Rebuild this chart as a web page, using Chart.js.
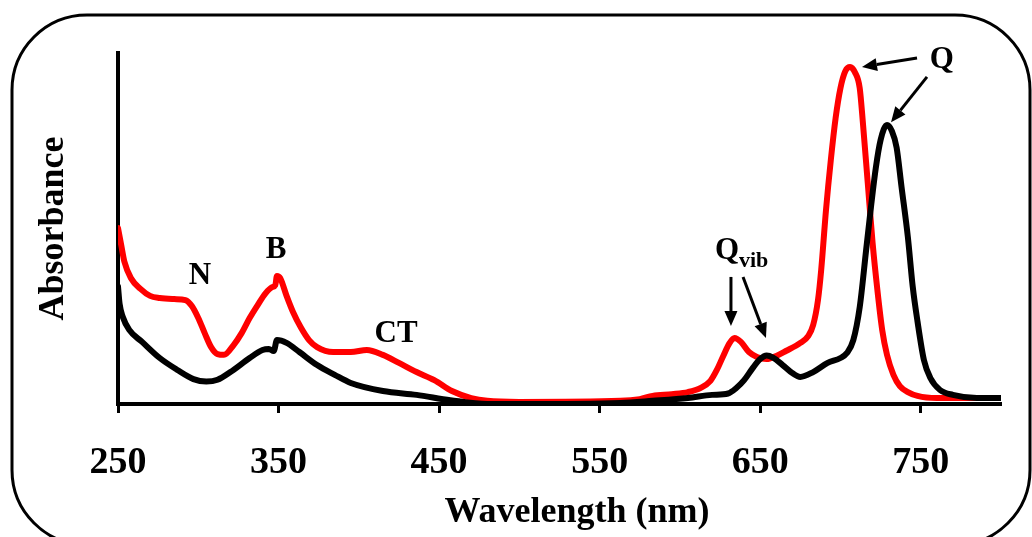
<!DOCTYPE html>
<html>
<head>
<meta charset="utf-8">
<script src="https://cdn.jsdelivr.net/npm/chart.js@4.4.0/dist/chart.umd.min.js"></script>
<style>
    html, body { margin: 0; padding: 0; background: #fff; }
    #wrap { width: 1032px; height: 537px; }
</style>
</head>
<body>
<div id="wrap"><canvas id="spectraChart" width="1032" height="537"></canvas></div>
<script>
// black spectrum
const blackNm = [250, 251, 253, 257, 265, 276, 287, 297, 305, 312,
    320, 332, 340, 344, 347, 349, 355, 363, 374, 385,
    395, 415, 436, 457, 480, 500, 563, 583, 605, 620,
    630, 635, 640, 645, 650, 654, 658, 664, 670, 675,
    683, 692, 700, 704, 708, 712, 716, 719, 722, 725,
    729, 732, 735, 738, 742, 745, 748, 752, 756, 762,
    770, 785, 800];
const blackAbs = [0.335, 0.285, 0.248, 0.211, 0.177, 0.131, 0.097, 0.071, 0.064, 0.069,
    0.091, 0.131, 0.154, 0.157, 0.151, 0.182, 0.174, 0.148, 0.111, 0.083,
    0.060, 0.037, 0.026, 0.011, 0.000, 0.000, 0.003, 0.009, 0.017, 0.026,
    0.030, 0.045, 0.068, 0.100, 0.128, 0.138, 0.132, 0.111, 0.088, 0.077,
    0.091, 0.117, 0.131, 0.145, 0.182, 0.276, 0.439, 0.561, 0.672, 0.752,
    0.795, 0.778, 0.730, 0.620, 0.475, 0.335, 0.235, 0.125, 0.074, 0.040,
    0.026, 0.017, 0.017];

// red spectrum
const redNm = [250, 252, 254, 258, 264, 270, 276, 285, 292, 296,
    300, 304, 308, 312, 316, 322, 327, 332, 337, 342,
    346, 348, 349, 351, 355, 359, 364, 369, 374, 384,
    395, 405, 415, 425, 436, 447, 458, 470, 480, 500,
    563, 575, 583, 595, 605, 613, 619, 623, 627, 631,
    634, 638, 643, 648, 654, 660, 666, 675, 680, 683,
    686, 688, 691, 694, 697, 700, 703, 706, 709, 712,
    714, 717, 720, 723, 726, 729, 733, 737, 742, 748,
    760, 780, 800];
const redAbs = [0.501, 0.453, 0.405, 0.359, 0.328, 0.308, 0.302, 0.299, 0.296, 0.279,
    0.245, 0.202, 0.162, 0.142, 0.140, 0.168, 0.202, 0.245, 0.282, 0.316,
    0.333, 0.339, 0.365, 0.359, 0.308, 0.262, 0.217, 0.182, 0.162, 0.148,
    0.148, 0.154, 0.140, 0.117, 0.091, 0.068, 0.037, 0.017, 0.009, 0.006,
    0.009, 0.014, 0.023, 0.028, 0.034, 0.046, 0.066, 0.097, 0.137, 0.174,
    0.188, 0.177, 0.148, 0.134, 0.128, 0.137, 0.151, 0.174, 0.194, 0.225,
    0.296, 0.382, 0.553, 0.695, 0.815, 0.900, 0.948, 0.960, 0.945, 0.900,
    0.800, 0.630, 0.460, 0.325, 0.211, 0.140, 0.083, 0.051, 0.034, 0.023,
    0.017, 0.017, 0.017];

const xTicks = [250, 350, 450, 550, 650, 750];

// band labels and arrows, in data units (nm, absorbance)
const bandLabels = [
    { text: 'N', x: 301.1, y: 0.365 },
    { text: 'B', x: 348.4, y: 0.439 },
    { text: 'CT', x: 423.2, y: 0.199 },
    { text: 'Q', x: 763.2, y: 0.980 },
    { text: 'Q', sub: 'vib', x: 629.3, y: 0.436 }
];
const bandArrows = [
    { from: [631.8, 0.362], to: [631.8, 0.222] },
    { from: [639.3, 0.362], to: [653.6, 0.188] },
    { from: [747.7, 0.986], to: [713.4, 0.960] },
    { from: [753.9, 0.932], to: [731.5, 0.803] }
];

const serif = "'Liberation Serif', 'Times New Roman', serif";

function toPoints(xs, ys) {
    return xs.map((x, i) => ({ x: x, y: ys[i] }));
}

function drawArrow(ctx, x1, y1, x2, y2) {
    const ang = Math.atan2(y2 - y1, x2 - x1);
    const head = 15, half = 6.5;
    const bx = x2 - head * Math.cos(ang), by = y2 - head * Math.sin(ang);
    ctx.beginPath();
    ctx.moveTo(x1, y1);
    ctx.lineTo(bx, by);
    ctx.stroke();
    ctx.beginPath();
    ctx.moveTo(x2, y2);
    ctx.lineTo(bx + half * Math.sin(ang), by - half * Math.cos(ang));
    ctx.lineTo(bx - half * Math.sin(ang), by + half * Math.cos(ang));
    ctx.closePath();
    ctx.fill();
}

// white background, rounded frame, x axis title
const framePlugin = {
    id: 'frame',
    beforeDraw(chart) {
        const ctx = chart.ctx;
        ctx.save();
        ctx.fillStyle = '#fff';
        ctx.fillRect(0, 0, chart.width, chart.height);
        ctx.restore();
    },
    afterDraw(chart) {
        const ctx = chart.ctx;
        const l = 12, t = 15, r = 1030, b = 545, rad = 75;
        ctx.save();
        ctx.strokeStyle = '#000';
        ctx.lineWidth = 3;
        ctx.beginPath();
        ctx.moveTo(l + rad, t);
        ctx.arcTo(r, t, r, b, rad);
        ctx.arcTo(r, b, l, b, rad);
        ctx.arcTo(l, b, l, t, rad);
        ctx.arcTo(l, t, r, t, rad);
        ctx.closePath();
        ctx.stroke();

        // x title sits a little right of the axis centre in the original
        ctx.fillStyle = '#000';
        ctx.font = 'bold 36px ' + serif;
        ctx.textAlign = 'center';
        ctx.textBaseline = 'middle';
        ctx.fillText('Wavelength (nm)', chart.chartArea.left + 459, 513);
        ctx.restore();
    }
};

// band labels with arrows
const bandPlugin = {
    id: 'bands',
    afterDatasetsDraw(chart) {
        const ctx = chart.ctx;
        const xs = chart.scales.x, ys = chart.scales.y;
        ctx.save();
        ctx.fillStyle = '#000';
        ctx.strokeStyle = '#000';
        ctx.lineWidth = 3;
        bandArrows.forEach(a => {
            drawArrow(ctx,
                xs.getPixelForValue(a.from[0]), ys.getPixelForValue(a.from[1]),
                xs.getPixelForValue(a.to[0]), ys.getPixelForValue(a.to[1]));
        });
        bandLabels.forEach(lb => {
            const px = xs.getPixelForValue(lb.x), py = ys.getPixelForValue(lb.y);
            ctx.font = 'bold 31px ' + serif;
            ctx.textAlign = 'center';
            ctx.textBaseline = 'middle';
            ctx.fillText(lb.text, px, py);
            if (lb.sub) {
                const w = ctx.measureText(lb.text).width;
                ctx.font = 'bold 22px ' + serif;
                ctx.textAlign = 'left';
                ctx.textBaseline = 'alphabetic';
                ctx.fillText(lb.sub, px + w / 2, py + 16);
            }
        });
        ctx.restore();
    }
};

const spectraChart = new Chart(document.getElementById('spectraChart'), {
    type: 'line',
    data: {
        datasets: [
            {
                label: 'black',
                data: toPoints(blackNm, blackAbs),
                borderColor: '#000',
                borderWidth: 6,
                pointRadius: 0,
                cubicInterpolationMode: 'monotone',
                borderJoinStyle: 'round',
                borderCapStyle: 'round'
            },
            {
                label: 'red',
                data: toPoints(redNm, redAbs),
                borderColor: '#ff0000',
                borderWidth: 6,
                pointRadius: 0,
                cubicInterpolationMode: 'monotone',
                borderJoinStyle: 'round',
                borderCapStyle: 'round'
            }
        ]
    },
    options: {
        responsive: false,
        animation: false,
        devicePixelRatio: 1,
        layout: { padding: { left: 0, right: 31, top: 53, bottom: 0 } },
        plugins: {
            legend: { display: false },
            tooltip: { enabled: false }
        },
        scales: {
            x: {
                type: 'linear',
                min: 250,
                max: 800,
                afterBuildTicks: scale => { scale.ticks = xTicks.map(v => ({ value: v })); },
                afterFit: scale => { scale.height = 133; },
                border: { display: true, color: '#000', width: 4 },
                grid: {
                    display: true,
                    drawOnChartArea: false,
                    drawTicks: true,
                    tickLength: 9,
                    tickWidth: 3,
                    tickColor: '#000',
                    color: '#000'
                },
                ticks: {
                    color: '#000',
                    padding: 27,
                    maxRotation: 0,
                    font: { family: serif, size: 38, weight: 'bold' }
                }
            },
            y: {
                type: 'linear',
                min: 0,
                max: 1,
                afterFit: scale => { scale.width = 118; },
                border: { display: true, color: '#000', width: 4 },
                grid: { display: false },
                ticks: { display: false },
                title: {
                    display: true,
                    text: 'Absorbance',
                    color: '#000',
                    padding: { top: 32, bottom: 0 },
                    font: { family: serif, size: 36, weight: 'bold' }
                }
            }
        }
    },
    plugins: [framePlugin, bandPlugin]
});
</script>
</body>
</html>
